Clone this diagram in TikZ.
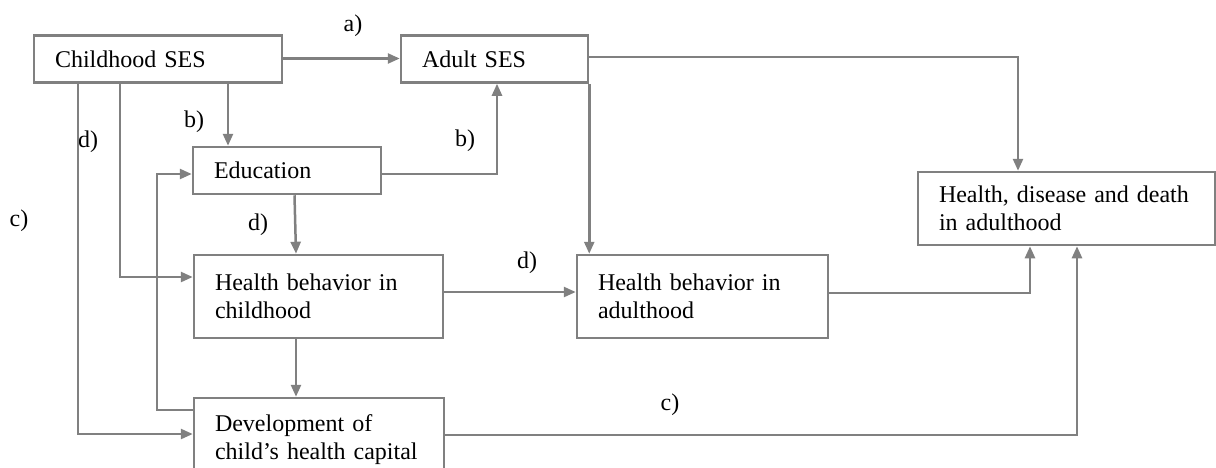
\documentclass[tikz,border=0pt]{standalone}
\usepackage{fontspec}
\setmainfont{Liberation Serif}
\usetikzlibrary{arrows.meta}
\definecolor{linegray}{RGB}{128,128,128}
\tikzset{
  box/.style={draw=linegray, line width=2.5pt, inner xsep=21pt, inner ysep=0pt,
    align=left, font=\fontsize{24}{27.5}\selectfont, anchor=center},
  conn/.style={draw=linegray, line width=2.5pt, -{Triangle[length=12pt,width=10pt]}},
  lab/.style={font=\fontsize{24}{27.5}\selectfont, inner sep=0pt}
}
\begin{document}
\begin{tikzpicture}[x=1pt,y=-1pt]
\useasboundingbox (0,0) rectangle (1216,467);
\clip (0,0) rectangle (1216,467);
% boxes
\node[box, text width=206pt, minimum height=47pt] (CS) at (158,59) {Childhood SES};
\node[box, text width=145pt, minimum height=47pt] (AS) at (494.5,59) {Adult SES};
\node[box, text width=146pt, minimum height=47pt] (EDU) at (287,170.5) {Education};
\node[box, text width=207pt, minimum height=83pt] (HBC) at (318.5,296.5) {Health behavior in\\childhood};
\node[box, text width=209pt, minimum height=83pt] (HBA) at (702.5,296.5) {Health behavior in\\adulthood};
\node[box, text width=208pt, minimum height=83pt] (DEV) at (319,439.5) {Development of\\child’s health capital};
\node[box, text width=255pt, minimum height=73pt] (HD) at (1066.5,208.5) {Health, disease and death\\in adulthood};
% labels
\node[lab] (la) at (353,26) {a)};
\node[lab] (lb1) at (194,122) {b)};
\node[lab] (ld1) at (88,142) {d)};
\node[lab] (lb2) at (465,141) {b)};
\node[lab] (lc1) at (19,221) {c)};
\node[lab] (ld2) at (258,225) {d)};
\node[lab] (ld3) at (527,263) {d)};
\node[lab] (lc2) at (670,405) {c)};
% connectors
\draw[conn] (CS.east |- 0,58.5) -- (AS.west |- 0,58.5);
\draw[conn] (CS.south -| 228,0) -- (EDU.north -| 228,0);
\draw[conn] (EDU.east |- 0,174) -| (AS.south -| 497,0);
\draw[conn] (CS.south -| 120,0) |- (HBC.west |- 0,277);
\draw[conn] (CS.south -| 78,0) |- (DEV.west |- 0,434);
\draw[conn] (DEV.west |- 0,410) -- (157,410) |- (EDU.west |- 0,174);
\draw[conn] (EDU.south -| 294.5,0) -- (HBC.north -| 296,0);
\draw[conn] (HBC.south -| 296,0) -- (DEV.north -| 296,0);
\draw[conn] (HBC.east |- 0,292) -- (HBA.west |- 0,292);
\draw[conn] (AS.south east) -- (HBA.north -| AS.east);
\draw[conn] (AS.east |- 0,57) -| (HD.north -| 1018,0);
\draw[conn] (HBA.east |- 0,293) -| (HD.south -| 1030,0);
\draw[conn] (DEV.east |- 0,435) -| (HD.south -| 1077,0);
\end{tikzpicture}
\end{document}
